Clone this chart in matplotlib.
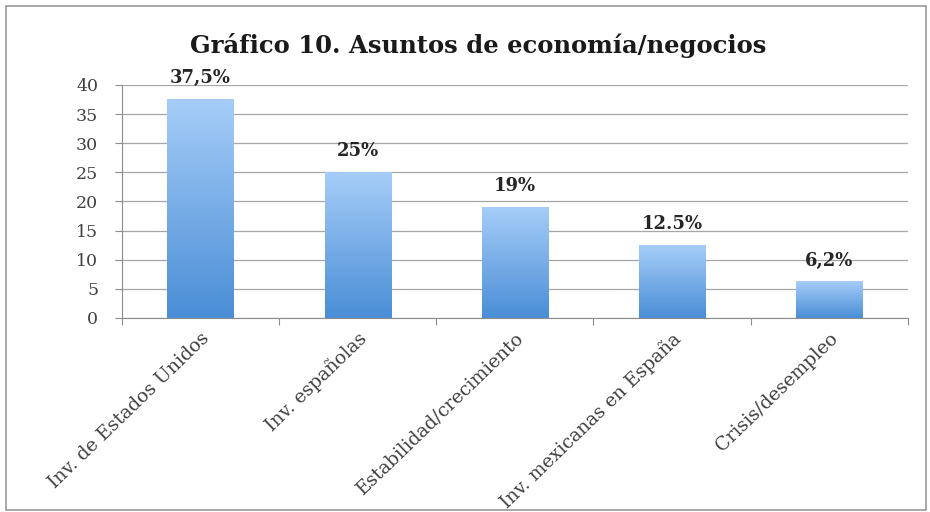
import matplotlib.pyplot as plt
import numpy as np
from matplotlib.colors import LinearSegmentedColormap
from matplotlib.patches import Rectangle

categories = ['Inv. de Estados Unidos', 'Inv. españolas', 'Estabilidad/crecimiento',
              'Inv. mexicanas en España', 'Crisis/desempleo']
values = [37.5, 25, 19, 12.5, 6.2]
labels = ['37,5%', '25%', '19%', '12.5%', '6,2%']

plt.rcParams['font.family'] = ['DejaVu Serif', 'Liberation Serif']

fig = plt.figure(figsize=(9.3, 5.12), dpi=100)
ax = fig.add_axes([0.131, 0.379, 0.845, 0.455])

# light blue at the top of each bar, darker towards the base
grad = LinearSegmentedColormap.from_list('bar', ['#4a8ed6', '#a6cdf8'])
ramp = np.linspace(0, 1, 256).reshape(-1, 1)
width = 0.42
x = np.arange(len(categories))
for xi, v, lab in zip(x, values, labels):
    ax.imshow(ramp, cmap=grad, origin='lower', aspect='auto',
              extent=(xi - width / 2, xi + width / 2, 0, v), zorder=2)
    ax.text(xi, v + 2.1, lab, ha='center', va='bottom', fontsize=13,
            fontweight='bold', color='#262626', zorder=3)

ax.set_xlim(-0.5, len(categories) - 0.5)
ax.set_ylim(0, 40)
ax.set_yticks(range(0, 41, 5))
ax.yaxis.grid(True, color='#a6a6a6', linewidth=0.9)
ax.set_axisbelow(True)

# category ticks sit between the bars
ax.set_xticks(np.arange(-0.5, len(categories), 1))
ax.set_xticklabels([])
ax.set_xticks(x, minor=True)
ax.set_xticklabels(categories, minor=True, rotation=44, ha='right',
                   rotation_mode='anchor', fontsize=13.5, color='#404040')
ax.tick_params(axis='x', which='minor', length=0, pad=8)
ax.tick_params(axis='x', which='major', length=5, color='#8c8c8c')
ax.tick_params(axis='y', length=5, color='#8c8c8c', labelsize=12.5,
               labelcolor='#404040', pad=12)

for side in ['top', 'right']:
    ax.spines[side].set_visible(False)
for side in ['left', 'bottom']:
    ax.spines[side].set_color('#8c8c8c')

fig.text(0.514, 0.912, 'Gráfico 10. Asuntos de economía/negocios', ha='center',
         va='center', fontsize=17.5, fontweight='bold', color='#1a1a1a')

fig.patches.append(Rectangle((0.006, 0.004), 0.99, 0.985, transform=fig.transFigure,
                             fill=False, edgecolor='#9a9a9a', linewidth=1.2))

fig.savefig('out.png', dpi=100)
